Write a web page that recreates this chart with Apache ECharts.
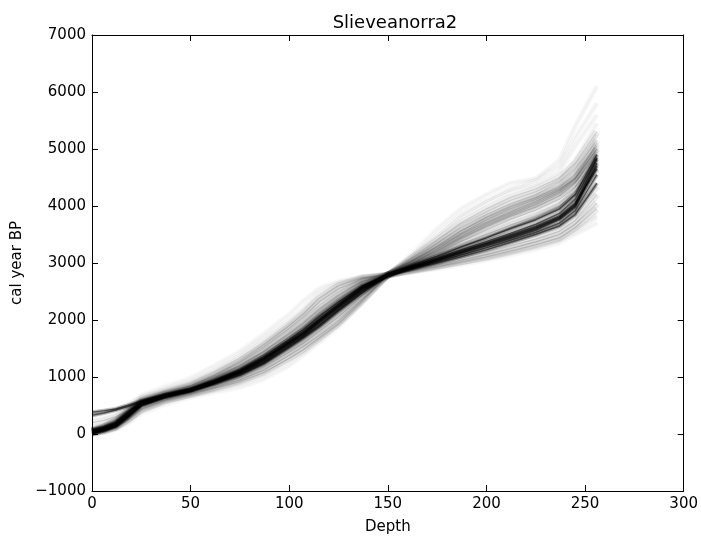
<!DOCTYPE html>
<html><head><meta charset="utf-8">
<script src="https://cdn.jsdelivr.net/npm/echarts@6/dist/echarts.min.js"></script>
<style>html,body{margin:0;padding:0;background:#fff;overflow:hidden}#c{width:701px;height:540px}</style>
</head><body><div id="c"></div>
<script>
// Depth grid (x) shared by all ensemble members
const depths = [0,6,12,18,25,37,50,62,75,87,100,107,115,125,137,150,162,175,187,200,212,225,237,245,256];
// Core (densest) age-depth realisations, cal year BP
const coreRuns = [
  [40,90,160,330,540,670,770,910,1080,1290,1590,1740,1960,2230,2540,2790,2920,3050,3180,3320,3450,3600,3780,4000,4700],
  [20,70,140,300,510,660,760,890,1050,1250,1540,1700,1900,2180,2500,2790,2940,3090,3230,3380,3520,3680,3870,4120,4850],
  [60,110,190,360,560,680,780,930,1110,1330,1630,1790,2010,2280,2580,2790,2900,3020,3140,3270,3400,3540,3700,3920,4550],
  [0,60,130,280,500,650,750,880,1030,1230,1520,1680,1880,2160,2470,2790,2960,3120,3280,3440,3600,3760,3950,4200,4900],
  [80,120,200,380,570,690,790,940,1130,1360,1660,1830,2060,2320,2600,2790,2890,3000,3110,3230,3360,3500,3650,3850,4400],
  [10,60,150,310,520,650,760,900,1070,1270,1570,1720,1940,2210,2520,2790,2930,3070,3210,3350,3490,3640,3820,4050,4650],
  [330,370,420,480,560,670,770,910,1090,1310,1610,1760,1980,2250,2560,2790,2910,3040,3170,3300,3430,3580,3760,3980,4750],
  [380,410,440,500,580,680,780,920,1100,1320,1600,1770,1990,2260,2570,2790,2920,3060,3200,3340,3470,3620,3800,4030,4820]
];
// Mid-density realisations
const midRuns = [
  [50,110,200,370,560,700,820,990,1200,1450,1780,1960,2200,2450,2680,2790,2990,3250,3500,3720,3900,4080,4280,4500,5000],
  [30,80,150,300,480,620,730,850,990,1170,1440,1590,1800,2060,2420,2790,2880,2980,3090,3190,3300,3420,3560,3750,4200],
  [60,120,220,390,580,710,840,1020,1260,1530,1860,2050,2310,2550,2720,2790,3050,3350,3620,3850,4040,4200,4420,4650,5150],
  [20,60,120,260,450,600,710,820,950,1120,1380,1530,1720,1980,2360,2790,2870,2960,3050,3150,3250,3370,3500,3680,4050],
  [40,100,180,350,550,690,800,960,1160,1400,1700,1880,2120,2380,2640,2790,2960,3160,3380,3580,3760,3930,4120,4330,4850],
  [30,80,160,320,520,660,760,880,1040,1220,1500,1650,1860,2130,2480,2790,2900,3020,3140,3260,3380,3510,3650,3860,4350],
  [70,130,230,400,590,720,850,1040,1280,1560,1900,2100,2380,2600,2740,2790,3080,3400,3700,3950,4150,4300,4500,4750,5300],
  [10,50,110,240,430,590,700,800,920,1080,1330,1480,1680,1940,2330,2790,2860,2940,3020,3110,3210,3320,3440,3620,3950],
  [50,110,190,360,560,680,790,950,1140,1380,1670,1850,2080,2340,2610,2790,2980,3200,3440,3660,3840,4020,4220,4420,4950],
  [200,240,300,400,540,660,770,910,1080,1300,1600,1760,1970,2240,2550,2790,2940,3100,3280,3450,3620,3800,4000,4250,4750],
  [30,90,170,340,540,670,780,930,1110,1340,1640,1800,2020,2290,2590,2790,3020,3300,3560,3800,3980,4150,4330,4550,5050],
  [50,100,180,350,550,680,790,940,1120,1350,1650,1820,2050,2310,2600,2790,2970,3180,3420,3640,3820,3980,4180,4400,4900],
  [20,70,140,300,500,640,750,880,1040,1250,1540,1700,1910,2180,2500,2790,3030,3280,3520,3760,3950,4120,4300,4480,5100],
  [40,100,190,360,560,690,800,960,1150,1390,1700,1870,2100,2360,2630,2790,2950,3130,3320,3500,3660,3820,4000,4200,4650],
  [60,120,210,380,570,700,810,980,1190,1440,1760,1940,2180,2430,2670,2790,2930,3100,3280,3450,3610,3780,3980,4250,4800],
  [10,60,130,290,490,630,740,860,1010,1200,1470,1620,1830,2100,2440,2790,2990,3220,3460,3690,3870,4050,4250,4470,5000]
];
// Faint outer realisations
const outerRuns = [
  [100,180,300,480,680,830,980,1200,1450,1750,2100,2330,2550,2680,2760,2790,3150,3600,3950,4200,4400,4480,4800,5400,6100],
  [0,30,80,180,360,520,640,730,820,960,1200,1380,1600,1880,2300,2790,2840,2900,2970,3050,3140,3240,3360,3500,3700],
  [80,150,260,440,640,780,920,1120,1380,1680,2000,2200,2480,2650,2750,2790,3100,3500,3850,4100,4300,4450,4700,5200,5800],
  [10,40,100,220,400,560,670,770,880,1030,1280,1430,1650,1920,2320,2790,2850,2920,3000,3080,3170,3280,3400,3560,3800],
  [60,140,240,420,620,760,900,1100,1340,1620,1950,2150,2400,2620,2740,2790,3120,3450,3800,4060,4260,4380,4600,5050,5600],
  [20,50,110,230,410,570,680,790,920,1080,1330,1470,1690,1950,2340,2790,2860,2930,3010,3100,3190,3300,3420,3590,3850],
  [300,350,420,520,640,760,880,1060,1300,1570,1900,2080,2300,2520,2700,2790,3060,3380,3680,3900,4100,4250,4450,4800,5450],
  [40,90,170,330,520,660,770,900,1060,1260,1560,1720,1940,2200,2520,2790,3000,3280,3560,3800,4000,4150,4350,4650,5250]
];
const xTicks = [0,50,100,150,200,250,300];
const yTicks = [-1000,0,1000,2000,3000,4000,5000,6000,7000];

const FONT = 'DejaVu Sans';
function mk(run, op, w){
  return {type:'line', data: depths.map((d,i)=>[d, run[i]]), showSymbol:false, symbol:'none',
    xAxisIndex:0, yAxisIndex:0, silent:true, animation:false, smooth:false,
    lineStyle:{color:'#000', width:w, opacity:op, join:'round'}};
}
const series = [];
outerRuns.forEach(r=>series.push(mk(r,0.035,5)));
outerRuns.forEach(r=>series.push(mk(r,0.04,1)));
midRuns.forEach(r=>series.push(mk(r,0.07,7)));
midRuns.forEach(r=>series.push(mk(r,0.12,1.2)));
coreRuns.forEach(r=>series.push(mk(r,0.25,4)));
coreRuns.forEach(r=>series.push(mk(r,0.55,1.5)));

const fmtY = v => String(v).replace('-', '\u2212');
const axisCommon = {
  axisLine:{show:true, onZero:false, lineStyle:{color:'#000', width:1}},
  axisTick:{show:true, inside:true, length:6, lineStyle:{color:'#000'}},
  splitLine:{show:false}
};
const chart = echarts.init(document.getElementById('c'), null, {renderer:'canvas', width:701, height:540});
chart.setOption({
  animation:false,
  backgroundColor:'#fff',
  title:{text:'Slieveanorra2', left:390, top:9, textAlign:'center',
    textStyle:{fontFamily:FONT, fontSize:18, fontWeight:'normal', color:'#000'}},
  grid:{left:92, right:13, top:35, bottom:44, show:false, containLabel:false},
  xAxis:[
    Object.assign({type:'value', min:xTicks[0], max:xTicks[xTicks.length-1], interval:50, position:'bottom',
     name:'Depth', nameLocation:'middle', nameGap:29,
     nameTextStyle:{fontFamily:FONT, fontSize:15, color:'#000'},
     axisLabel:{fontFamily:FONT, fontSize:15, color:'#000', margin:6}}, axisCommon),
    Object.assign({type:'value', min:0, max:300, interval:50, position:'top',
     axisLabel:{show:false}}, axisCommon)
  ],
  yAxis:[
    Object.assign({type:'value', min:yTicks[0], max:yTicks[yTicks.length-1], interval:1000, position:'left',
     name:'cal year BP', nameLocation:'middle', nameGap:67, nameRotate:90,
     nameTextStyle:{fontFamily:FONT, fontSize:15, color:'#000'},
     axisLabel:{fontFamily:FONT, fontSize:15, color:'#000', margin:6, formatter:fmtY}}, axisCommon),
    Object.assign({type:'value', min:-1000, max:7000, interval:1000, position:'right',
     axisLabel:{show:false}}, axisCommon)
  ],
  series: series
});
</script></body></html>
